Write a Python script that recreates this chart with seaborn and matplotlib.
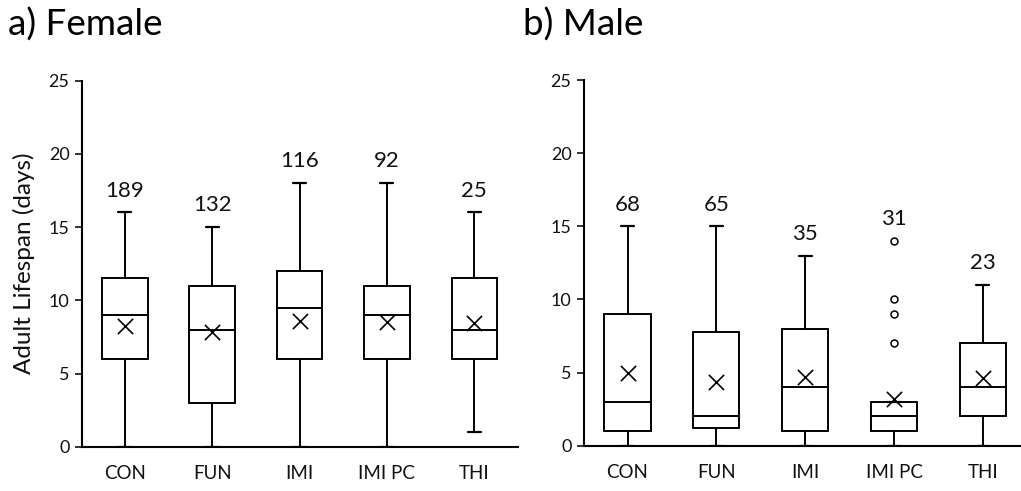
import matplotlib
matplotlib.use("Agg")
import matplotlib.pyplot as plt
import seaborn as sns
import pandas as pd

# Treatment groups
groups = ["CON", "FUN", "IMI", "IMI PC", "THI"]

# Female adult lifespan summaries (days)
female_whislo = [0, 0, 0, 0, 1]
female_q1 = [6, 3, 6, 6, 6]
female_med = [9, 8, 9.5, 9, 8]
female_q3 = [11.5, 11, 12, 11, 11.5]
female_whishi = [16, 15, 18, 18, 16]
female_mean = [8.26, 7.81, 8.59, 8.54, 8.43]
female_fliers = [[], [], [], [], []]
female_n = [189, 132, 116, 92, 25]

# Male adult lifespan summaries (days)
male_whislo = [0, 0, 0, 0, 0]
male_q1 = [1, 1.23, 1, 1, 2]
male_med = [3, 2, 4, 2, 4]
male_q3 = [9, 7.76, 8, 3, 7]
male_whishi = [15, 15, 13, 3, 11]
male_mean = [5.0, 4.38, 4.68, 3.17, 4.6]
male_fliers = [[], [], [], [7, 9, 10, 14], []]
male_n = [68, 65, 35, 31, 23]

yticks = [0, 5, 10, 15, 20, 25]

sns.set_theme(style="ticks")
plt.rcParams["font.family"] = ["Lato", "DejaVu Sans"]

fig = plt.figure(figsize=(10.21, 4.91), dpi=100)
ax_f = fig.add_axes([0.0803, 0.0902, 0.4270, 0.7454])
ax_m = fig.add_axes([0.5720, 0.0923, 0.4280, 0.7447])


def draw_panel(ax, whislo, q1, med, q3, whishi, mean, fliers, counts, xlim):
    stats = []
    for i, g in enumerate(groups):
        stats.append(dict(label=g, whislo=whislo[i], q1=q1[i], med=med[i],
                          q3=q3[i], whishi=whishi[i], fliers=fliers[i]))
    line = dict(color="black", linewidth=1.4)
    ax.bxp(stats, positions=range(len(groups)), widths=0.52, patch_artist=True,
           showmeans=False, showcaps=True,
           boxprops=dict(facecolor="white", edgecolor="black", linewidth=1.4),
           medianprops=line, whiskerprops=line,
           capprops=dict(color="black", linewidth=1.6),
           flierprops=dict(marker="o", markerfacecolor="white",
                           markeredgecolor="black", markersize=5,
                           markeredgewidth=1.1),
           capwidths=0.15, zorder=2)
    df = pd.DataFrame({"x": range(len(groups)), "mean": mean})
    sns.scatterplot(data=df, x="x", y="mean", marker="x", s=120, color="black",
                    linewidth=1.2, ax=ax, zorder=3, legend=False)
    for i, n in enumerate(counts):
        top = max([whishi[i]] + list(fliers[i]))
        ax.text(i, top + 0.8, str(n), ha="center", va="bottom",
                fontsize=16, color="#111111")
    ax.set_xlim(*xlim)
    ax.set_ylim(0, 25)
    ax.set_yticks(yticks)
    ax.set_xticks(range(len(groups)))
    ax.set_xticklabels(groups, fontsize=13.5, color="#111111")
    ax.tick_params(axis="y", labelsize=13, length=5, width=1.2,
                   colors="#111111", direction="out", pad=4)
    ax.tick_params(axis="x", length=0, pad=13)
    ax.set_xlabel("")
    ax.set_ylabel("")
    for s in ["left", "bottom"]:
        ax.spines[s].set_linewidth(1.5)
        ax.spines[s].set_color("black")
    sns.despine(ax=ax)
    ax.patch.set_alpha(0)


draw_panel(ax_f, female_whislo, female_q1, female_med, female_q3,
           female_whishi, female_mean, female_fliers, female_n, (-0.49, 4.5))
draw_panel(ax_m, male_whislo, male_q1, male_med, male_q3,
           male_whishi, male_mean, male_fliers, male_n, (-0.49, 4.43))
for sp in ax_m.spines.values():
    sp.set_clip_on(False)

ax_f.set_ylabel("Adult Lifespan (days)", fontsize=17.5, color="#111111", labelpad=10)

fig.text(0.008, 0.985, "a) Female", fontsize=26.5, ha="left", va="top", color="black")
fig.text(0.512, 0.985, "b) Male", fontsize=26.5, ha="left", va="top", color="black")

fig.savefig("out.png", dpi=100, facecolor="white")
